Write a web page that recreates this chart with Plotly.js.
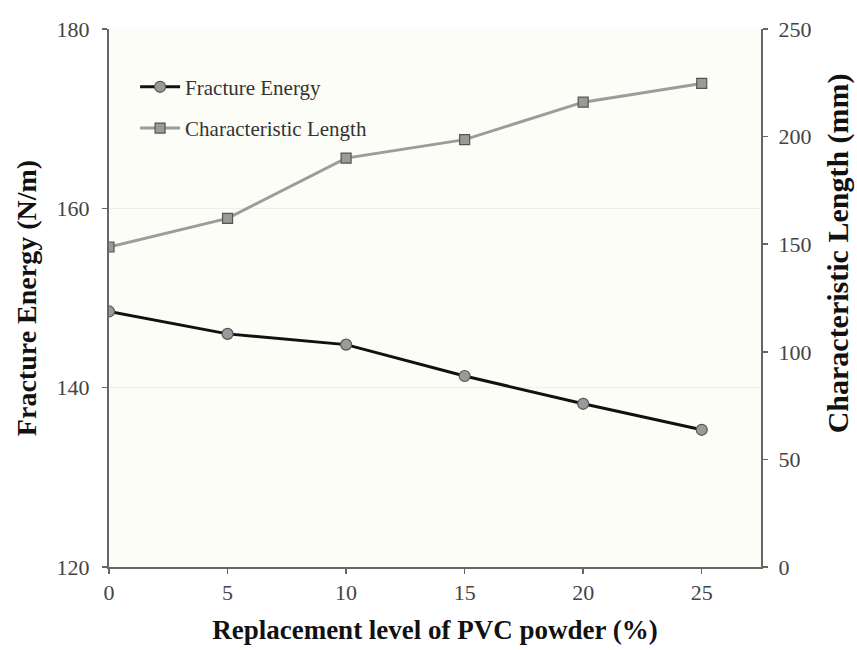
<!DOCTYPE html>
<html>
<head>
<meta charset="utf-8">
<script src="https://cdn.plot.ly/plotly-3.0.1.min.js"></script>
<style>html,body{margin:0;padding:0;background:#fff;}#chart{width:857px;height:650px;}</style>
</head>
<body>
<div id="chart"></div>
<script>
const replacementLevel = [0, 5, 10, 15, 20, 25];
const fractureEnergy = [148.5, 146.0, 144.8, 141.3, 138.2, 135.3];
const characteristicLength = [148.7, 162.0, 190.0, 198.6, 216.0, 224.7];
const xTicks = [0, 5, 10, 15, 20, 25];
const yLeftTicks = [120, 140, 160, 180];
const yRightTicks = [0, 50, 100, 150, 200, 250];

const serif = "Liberation Serif, Times New Roman, serif";

const traces = [
  {
    x: replacementLevel, y: fractureEnergy, name: "Fracture Energy", legendgroup: "fe",
    type: "scatter", mode: "lines+markers", yaxis: "y",
    line: {color: "#111111", width: 3},
    marker: {symbol: "circle", size: 11, color: "#9a9a9a", line: {color: "#555555", width: 1.2}}
  },
  {
    x: replacementLevel, y: characteristicLength, name: "Characteristic Length", legendgroup: "cl",
    type: "scatter", mode: "lines+markers", yaxis: "y2",
    line: {color: "#9c9c9c", width: 3},
    marker: {symbol: "square", size: 10, color: "#9a9a9a", line: {color: "#555555", width: 1.2}}
  }
];

const layout = {
  width: 857, height: 650,
  margin: {l: 109, r: 96, t: 28.5, b: 83},
  paper_bgcolor: "#ffffff",
  plot_bgcolor: "#fdfdf7",
  font: {family: serif, color: "#444444", size: 22},
  showlegend: true,
  legend: {x: 0.04, y: 0.93, xanchor: "left", yanchor: "top", bgcolor: "rgba(0,0,0,0)",
           font: {family: serif, size: 21, color: "#333333"}, tracegroupgap: 11, itemwidth: 40},
  xaxis: {
    range: [0, 27.5], tickvals: xTicks, ticktext: xTicks.map(String),
    showline: true, linecolor: "#666666", linewidth: 2, mirror: false,
    ticks: "outside", ticklen: 5, tickwidth: 1.5, tickcolor: "#666666",
    showgrid: false, zeroline: false,
    tickfont: {family: serif, size: 22, color: "#444444"},
    title: {text: "Replacement level of PVC powder (%)", standoff: 16,
            font: {family: serif, size: 27, color: "#111111", weight: "bold"}}
  },
  yaxis: {
    range: [120, 180], tickvals: yLeftTicks, ticktext: yLeftTicks.map(String),
    showline: true, linecolor: "#666666", linewidth: 2,
    ticks: "outside", ticklen: 5, tickwidth: 1.5, tickcolor: "#666666", ticklabelstandoff: 8,
    showgrid: true, gridcolor: "#eeeeea", gridwidth: 1.5, zeroline: false,
    tickfont: {family: serif, size: 22, color: "#444444"},
    title: {text: "Fracture Energy (N/m)", standoff: 12,
            font: {family: serif, size: 28, color: "#111111", weight: "bold"}}
  },
  yaxis2: {
    range: [0, 250], tickvals: yRightTicks, ticktext: yRightTicks.map(String),
    overlaying: "y", side: "right",
    showline: true, linecolor: "#666666", linewidth: 2,
    ticks: "outside", ticklen: 5, tickwidth: 1.5, tickcolor: "#666666", ticklabelstandoff: 6,
    showgrid: false, zeroline: false,
    tickfont: {family: serif, size: 22, color: "#444444"}
  },
  annotations: [{
    text: "Characteristic Length (mm)", xref: "paper", yref: "paper",
    x: 1, y: 0.583, xshift: 77, xanchor: "center", yanchor: "middle",
    textangle: -90, showarrow: false,
    font: {family: serif, size: 30, color: "#111111", weight: "bold"}
  }]
};

Plotly.newPlot("chart", traces, layout, {displayModeBar: false, staticPlot: true});
</script>
</body>
</html>
